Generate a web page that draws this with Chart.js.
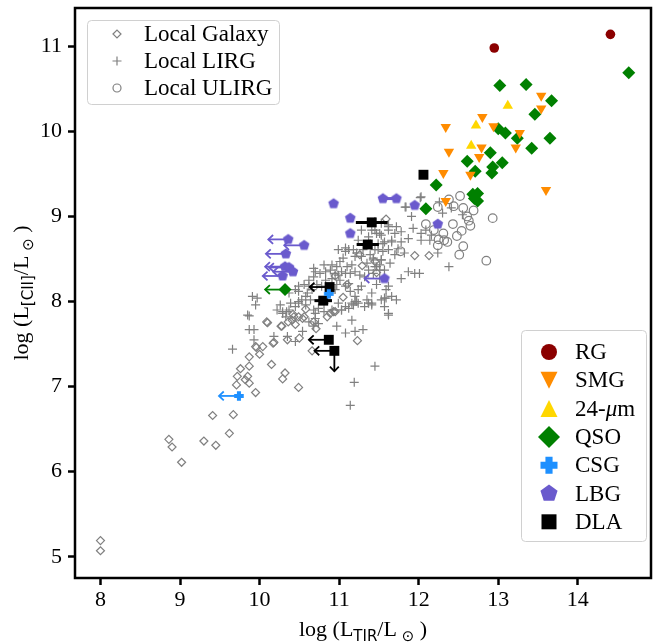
<!DOCTYPE html>
<html>
<head>
<meta charset="utf-8">
<script src="https://cdn.jsdelivr.net/npm/chart.js@4.4.0/dist/chart.umd.min.js"></script>
<style>
    body { margin: 0; background: #fff; }
    #wrap { width: 658px; height: 643px; }
</style>
</head>
<body>
<div id="wrap"><canvas id="ciiChart"></canvas></div>
<script>
// eixos
const xMin = 7.68, xMax = 14.92, yMin = 4.75, yMax = 11.45;
const xTicks = [8, 9, 10, 11, 12, 13, 14];
const yTicks = [5, 6, 7, 8, 9, 10, 11];

// amostras de alto z
const rgPts = [[12.95, 10.98], [14.41, 11.14]];
const smgPts = [[12.34, 10.05], [13.54, 10.42], [13.54, 10.27], [12.80, 10.17], [12.94, 10.06], [13.27, 9.98],
    [12.38, 9.76], [12.79, 9.81], [13.22, 9.81], [12.76, 9.70], [12.31, 9.51], [12.65, 9.49], [13.60, 9.31], [12.34, 9.18]];
const mipsPts = [[13.12, 10.30], [12.72, 10.07], [12.66, 9.83]];
const qsoPts = [[13.02, 10.54], [13.35, 10.55], [13.67, 10.36], [14.64, 10.69], [13.46, 10.20], [13.00, 10.03],
    [13.09, 9.98], [13.24, 9.92], [13.65, 9.92], [13.42, 9.80], [12.90, 9.75], [12.61, 9.65], [13.05, 9.63],
    [12.71, 9.53], [12.93, 9.58], [12.92, 9.51], [12.22, 9.37], [12.68, 9.26], [12.74, 9.27], [12.74, 9.18],
    [12.70, 9.21], [12.09, 9.09], [10.32, 8.14]];
const csgPts = [[9.74, 6.89], [10.87, 8.09]];
const lbgPts = [[10.93, 9.15], [11.55, 9.21], [11.72, 9.21], [11.14, 8.98], [11.14, 8.80], [11.95, 9.13], [12.24, 8.91],
    [10.36, 8.73], [10.56, 8.66], [10.33, 8.56], [10.32, 8.41], [10.37, 8.40], [10.42, 8.35], [10.29, 8.30], [11.57, 8.27]];
const dlaPts = [[11.41, 8.93], [11.36, 8.67], [10.88, 8.17], [10.80, 8.01], [10.87, 7.55], [10.94, 7.42], [12.06, 9.49]];

// limites superiores (setas) e barras de erro
const leftLimits = [
    { pts: [[10.36, 8.73], [10.56, 8.66], [10.33, 8.56], [10.32, 8.41], [10.37, 8.40], [10.42, 8.35], [10.29, 8.30], [11.57, 8.27]], color: '#6a5acd' },
    { pts: [[10.32, 8.14]], color: 'green' },
    { pts: [[9.74, 6.89]], color: '#1e90ff' },
    { pts: [[10.88, 8.17], [10.87, 7.55], [10.94, 7.42]], color: '#000' }
];
const downLimits = [[10.94, 7.42]];
const dlaXerr = [[11.41, 8.93, 0.20], [11.36, 8.67, 0.14], [10.80, 8.01, 0.11]];
const lbgLink = [[11.55, 11.72, 9.21]];

// amostras locais
const galaxyPts = [[8.00, 5.19], [8.00, 5.07], [8.86, 6.38], [8.90, 6.29], [9.02, 6.11], [9.30, 6.36], [9.45, 6.31],
    [9.62, 6.45], [9.41, 6.66], [9.67, 6.67], [9.95, 6.93], [10.15, 7.26], [9.71, 7.02], [9.72, 7.12], [9.76, 7.21],
    [9.87, 7.35], [9.87, 7.24], [10.00, 7.38], [9.95, 7.47], [10.04, 7.47], [10.17, 7.51], [9.82, 7.08], [9.87, 7.04],
    [9.85, 7.12], [10.09, 7.76], [9.96, 7.46], [10.27, 7.71], [10.36, 7.76], [10.45, 7.73], [10.42, 7.85], [10.58, 7.91],
    [10.56, 7.82], [10.68, 7.76], [10.71, 7.68], [10.85, 7.82], [10.93, 7.88], [10.35, 7.55], [10.18, 7.52], [10.50, 7.57],
    [10.32, 7.16], [10.29, 7.09], [10.49, 6.99], [11.23, 7.54], [10.66, 7.42], [11.59, 8.97], [11.95, 8.54], [12.13, 8.54],
    [11.26, 8.55], [11.29, 8.42], [11.45, 8.47], [11.47, 8.34], [10.54, 7.80], [10.10, 7.75], [10.28, 7.71], [10.43, 7.82],
    [10.89, 7.86], [10.95, 8.30], [11.10, 8.20], [11.05, 8.05], [10.41, 7.78], [10.49, 7.82], [10.95, 7.88]];
const lirgPts = [[9.91, 8.06], [9.97, 8.04], [9.95, 7.96], [10.45, 8.14], [10.49, 8.18], [10.56, 8.20], [10.62, 8.25],
    [10.68, 8.29], [10.70, 8.35], [10.76, 8.33], [10.83, 8.35], [10.89, 8.37], [10.91, 8.43], [10.97, 8.41], [11.01, 8.47],
    [11.05, 8.51], [11.08, 8.59], [11.12, 8.61], [11.18, 8.61], [11.20, 8.53], [11.22, 8.57], [11.28, 8.53], [11.30, 8.61],
    [11.35, 8.45], [11.39, 8.55], [11.43, 8.51], [11.45, 8.61], [11.47, 8.80], [11.49, 8.68], [11.51, 8.43], [11.53, 8.49],
    [11.55, 8.59], [11.57, 8.37], [11.57, 8.70], [11.59, 8.14], [11.51, 8.27], [11.47, 8.20], [11.41, 8.10], [11.35, 8.02],
    [11.28, 8.18], [11.24, 8.14], [11.20, 8.06], [11.14, 8.12], [11.12, 8.21], [11.08, 8.18], [11.01, 8.25], [10.97, 8.20],
    [10.95, 8.14], [10.89, 8.10], [10.85, 8.02], [10.81, 7.98], [10.74, 7.92], [10.68, 7.90], [10.64, 8.02], [10.60, 8.10],
    [10.58, 7.96], [10.53, 8.02], [10.49, 8.00], [10.45, 7.94], [10.39, 7.98], [10.37, 7.90], [10.33, 7.82], [10.29, 7.86],
    [10.26, 7.96], [10.22, 7.90], [10.70, 7.80], [10.74, 7.74], [10.62, 7.76], [10.99, 7.98], [11.03, 7.90], [11.12, 7.92],
    [11.18, 7.96], [11.24, 7.98], [11.32, 7.94], [11.41, 7.96], [11.53, 8.02], [11.57, 7.94], [10.95, 8.33], [10.99, 8.31],
    [10.91, 8.27], [10.83, 8.25], [10.78, 8.18], [10.72, 8.20], [10.66, 8.14], [10.62, 8.18], [11.08, 8.33], [11.14, 8.33],
    [11.20, 8.35], [11.26, 8.31], [11.16, 8.43], [11.10, 8.41], [11.03, 8.35], [11.32, 8.29], [11.37, 8.37], [11.43, 8.33],
    [11.47, 8.41], [11.51, 8.37], [12.03, 9.23], [11.84, 9.11], [11.91, 9.00], [12.26, 9.17], [12.30, 9.04], [12.55, 9.02],
    [11.45, 8.94], [11.53, 8.92], [11.62, 8.90], [11.72, 8.88], [11.78, 8.82], [11.70, 8.80], [11.62, 8.84], [11.53, 8.78],
    [11.45, 8.84], [11.93, 8.86], [12.03, 8.80], [12.09, 8.84], [12.16, 8.78], [12.03, 8.72], [12.14, 8.72], [11.87, 8.74],
    [11.78, 8.70], [11.66, 8.70], [11.55, 8.68], [11.74, 8.62], [11.82, 8.57], [11.70, 8.55], [11.62, 8.61], [11.49, 8.61],
    [11.53, 8.49], [11.64, 8.45], [12.24, 8.57], [12.38, 8.41], [11.87, 8.35], [11.95, 8.33], [12.01, 8.33], [11.78, 8.27],
    [11.43, 8.49], [11.45, 8.41], [11.39, 8.68], [12.02, 9.22], [11.83, 9.11], [12.41, 9.10], [9.87, 7.83], [9.87, 7.67],
    [9.93, 7.67], [9.93, 7.55], [9.66, 7.44], [10.37, 8.10], [10.29, 7.88], [10.34, 7.88], [10.49, 8.12], [10.49, 7.98],
    [10.58, 8.06], [10.70, 7.86], [10.68, 7.71], [10.54, 7.65], [10.45, 7.53], [10.35, 7.59], [10.18, 7.59], [11.08, 7.63],
    [11.20, 7.65], [11.30, 7.67], [11.08, 7.94], [11.20, 8.00], [11.41, 7.98], [11.62, 7.86], [11.59, 8.04], [11.45, 7.24],
    [11.19, 7.05], [11.14, 6.78], [10.97, 7.71], [11.03, 7.90], [10.91, 7.90], [10.81, 7.88], [11.16, 7.78], [10.68, 8.39],
    [10.81, 8.43], [10.99, 8.61], [11.08, 8.63], [11.24, 8.72], [11.41, 8.84], [11.51, 8.80], [11.62, 8.88], [11.66, 8.72],
    [11.28, 8.84], [11.37, 8.76], [9.85, 7.84], [11.62, 8.18], [11.57, 8.04], [11.66, 8.06], [11.72, 8.02], [11.62, 7.84],
    [11.37, 7.98], [11.16, 7.98], [11.22, 8.00]];
const ulirgPts = [[12.38, 9.20], [12.52, 9.24], [12.24, 9.11], [12.44, 9.12], [12.56, 9.10], [12.69, 9.07], [12.09, 8.91],
    [12.43, 8.91], [12.54, 8.83], [12.63, 8.95], [12.65, 8.89], [12.93, 8.98], [12.31, 8.80], [12.25, 8.73], [12.32, 8.72],
    [12.36, 8.70], [12.24, 8.66], [12.56, 8.65], [12.51, 8.55], [12.85, 8.48], [11.77, 8.59], [12.19, 8.84], [12.48, 8.77],
    [12.61, 9.00]];

const serif = "'Liberation Serif', 'DejaVu Serif', serif";
const sans = "'DejaVu Sans', sans-serif";

function toXY(list) {
    return list.map(p => ({ x: p[0], y: p[1] }));
}

// marcadores que o Chart.js não tem (pentágono, cruz cheia)
function makeMarker(kind, size, color) {
    const c = document.createElement('canvas');
    c.width = c.height = Math.ceil(size * 2 + 2);
    const g = c.getContext('2d');
    const m = c.width / 2;
    g.fillStyle = color;
    g.beginPath();
    shapePath(g, kind, m, m, size);
    g.fill();
    return c;
}

function shapePath(g, kind, x, y, r) {
    if (kind === 'circle') {
        g.arc(x, y, r, 0, 2 * Math.PI);
    } else if (kind === 'diamond') {
        g.moveTo(x - r, y); g.lineTo(x, y - r); g.lineTo(x + r, y); g.lineTo(x, y + r); g.closePath();
    } else if (kind === 'up') {
        g.moveTo(x, y - r); g.lineTo(x + r, y + r); g.lineTo(x - r, y + r); g.closePath();
    } else if (kind === 'down') {
        g.moveTo(x, y + r); g.lineTo(x + r, y - r); g.lineTo(x - r, y - r); g.closePath();
    } else if (kind === 'square') {
        g.rect(x - r, y - r, 2 * r, 2 * r);
    } else if (kind === 'pentagon') {
        for (let i = 0; i < 5; i++) {
            const a = -Math.PI / 2 + i * 2 * Math.PI / 5;
            g.lineTo(x + r * Math.cos(a), y + r * Math.sin(a));
        }
        g.closePath();
    } else if (kind === 'plusfill') {
        const t = r * 0.42;
        g.moveTo(x - t, y - r); g.lineTo(x + t, y - r); g.lineTo(x + t, y - t); g.lineTo(x + r, y - t);
        g.lineTo(x + r, y + t); g.lineTo(x + t, y + t); g.lineTo(x + t, y + r); g.lineTo(x - t, y + r);
        g.lineTo(x - t, y + t); g.lineTo(x - r, y + t); g.lineTo(x - r, y - t); g.lineTo(x - t, y - t);
        g.closePath();
    } else if (kind === 'plus') {
        g.moveTo(x - r, y); g.lineTo(x + r, y); g.moveTo(x, y - r); g.lineTo(x, y + r);
    }
}

const pentagonImg = makeMarker('pentagon', 5.6, '#6a5acd');
const plusImg = makeMarker('plusfill', 4.8, '#1e90ff');

function arrowLine(ctx, x0, y0, x1, y1, color) {
    ctx.strokeStyle = color;
    ctx.lineWidth = 1.8;
    ctx.beginPath(); ctx.moveTo(x0, y0); ctx.lineTo(x1, y1); ctx.stroke();
    const a = Math.atan2(y1 - y0, x1 - x0), h = 6.5;
    ctx.beginPath();
    ctx.moveTo(x1 - h * Math.cos(a - 0.75), y1 - h * Math.sin(a - 0.75));
    ctx.lineTo(x1, y1);
    ctx.lineTo(x1 - h * Math.cos(a + 0.75), y1 - h * Math.sin(a + 0.75));
    ctx.stroke();
}

function drawParts(ctx, parts, x, y) {
    let total = 0;
    parts.forEach(p => { ctx.font = p[1]; total += ctx.measureText(p[0]).width; });
    let cx = x - total / 2;
    parts.forEach(p => {
        ctx.font = p[1];
        ctx.fillText(p[0], cx, y + p[2]);
        cx += ctx.measureText(p[0]).width;
    });
}

function drawLegend(ctx, box, rows) {
    ctx.save();
    ctx.fillStyle = 'rgba(255,255,255,0.8)';
    ctx.strokeStyle = '#d0d0d0';
    ctx.lineWidth = 1;
    ctx.beginPath();
    ctx.roundRect(box.x + 0.5, box.y + 0.5, box.w, box.h, 4);
    ctx.fill();
    ctx.stroke();
    ctx.textBaseline = 'middle';
    rows.forEach((r, i) => {
        const y = box.rowY + i * box.step;
        ctx.beginPath();
        shapePath(ctx, r.kind, box.mx, y, r.size);
        if (r.fill) { ctx.fillStyle = r.fill; ctx.fill(); }
        if (r.stroke) { ctx.strokeStyle = r.stroke; ctx.lineWidth = 1.2; ctx.stroke(); }
        ctx.fillStyle = '#000';
        let tx = box.tx;
        r.text.forEach(t => {
            ctx.font = (t[1] ? 'italic ' : '') + '23px ' + serif;
            ctx.fillText(t[0], tx, y + 1);
            tx += ctx.measureText(t[0]).width;
        });
    });
    ctx.restore();
}

const decorPlugin = {
    id: 'decor',
    afterDatasetDraw(chart, args) {
        if (args.index !== 7) return; // depois dos pontos locais, antes dos coloridos
        const ctx = chart.ctx, xs = chart.scales.x, ys = chart.scales.y;
        ctx.save();
        // barras de erro das DLA
        dlaXerr.forEach(e => {
            ctx.strokeStyle = '#000';
            ctx.lineWidth = 3;
            ctx.beginPath();
            ctx.moveTo(xs.getPixelForValue(e[0] - e[2]), ys.getPixelForValue(e[1]));
            ctx.lineTo(xs.getPixelForValue(e[0] + e[2]), ys.getPixelForValue(e[1]));
            ctx.stroke();
        });
        lbgLink.forEach(e => {
            ctx.strokeStyle = '#6a5acd';
            ctx.lineWidth = 3;
            ctx.beginPath();
            ctx.moveTo(xs.getPixelForValue(e[0]), ys.getPixelForValue(e[2]));
            ctx.lineTo(xs.getPixelForValue(e[1]), ys.getPixelForValue(e[2]));
            ctx.stroke();
        });
        leftLimits.forEach(group => {
            group.pts.forEach(p => {
                const py = ys.getPixelForValue(p[1]);
                arrowLine(ctx, xs.getPixelForValue(p[0]), py, xs.getPixelForValue(p[0] - 0.25), py, group.color);
            });
        });
        downLimits.forEach(p => {
            const px = xs.getPixelForValue(p[0]);
            arrowLine(ctx, px, ys.getPixelForValue(p[1]), px, ys.getPixelForValue(p[1] - 0.24), '#000');
        });
        ctx.restore();
    },
    afterDraw(chart) {
        const ctx = chart.ctx, a = chart.chartArea;
        ctx.save();
        // moldura
        ctx.strokeStyle = '#000';
        ctx.lineWidth = 2.5;
        ctx.strokeRect(a.left, a.top, a.right - a.left, a.bottom - a.top);

        // títulos dos eixos
        ctx.fillStyle = '#000';
        ctx.textBaseline = 'alphabetic';
        const big = '22px ' + serif, small = '15px ' + sans;
        drawParts(ctx, [['log (L', big, 0], ['TIR', small, 5], ['/L', big, 0], [' \u2299', small, 5], [' )', big, 0]],
            (a.left + a.right) / 2, 636);
        ctx.save();
        ctx.translate(28, (a.top + a.bottom) / 2);
        ctx.rotate(-Math.PI / 2);
        drawParts(ctx, [['log (L', big, 0], ['[CII]', small, 5], ['/L', big, 0], [' \u2299', small, 5], [' )', big, 0]], 0, 0);
        ctx.restore();

        // legendas
        drawLegend(ctx, { x: 87, y: 20, w: 192, h: 84, rowY: 34, step: 27, mx: 117, tx: 144 }, [
            { kind: 'diamond', size: 4, stroke: 'gray', text: [['Local Galaxy']] },
            { kind: 'plus', size: 4.5, stroke: 'gray', text: [['Local LIRG']] },
            { kind: 'circle', size: 4, stroke: 'gray', text: [['Local ULIRG']] }
        ]);
        drawLegend(ctx, { x: 521, y: 330, w: 125, h: 211, rowY: 352, step: 28.3, mx: 549, tx: 575 }, [
            { kind: 'circle', size: 8, fill: 'darkred', text: [['RG']] },
            { kind: 'down', size: 8.5, fill: 'darkorange', text: [['SMG']] },
            { kind: 'up', size: 8.5, fill: 'gold', text: [['24-'], ['\u03bc', true], ['m']] },
            { kind: 'diamond', size: 11, fill: 'green', text: [['QSO']] },
            { kind: 'plusfill', size: 8.5, fill: '#1e90ff', text: [['CSG']] },
            { kind: 'pentagon', size: 9, fill: '#6a5acd', text: [['LBG']] },
            { kind: 'square', size: 7.5, fill: '#000', text: [['DLA']] }
        ]);
        ctx.restore();
    }
};

function axisFont() {
    return { family: serif, size: 22 };
}

// sem folga extra para os rótulos das pontas: a área do gráfico fica fixa
function noPad(s) {
    s.paddingTop = 0;
    s.paddingBottom = 0;
    s.paddingLeft = 0;
    s.paddingRight = 0;
}

new Chart(document.getElementById('ciiChart'), {
    type: 'scatter',
    data: {
        datasets: [
            { label: 'RG', data: toXY(rgPts), pointStyle: 'circle', pointRadius: 4.8, backgroundColor: 'darkred', borderWidth: 0 },
            { label: 'SMG', data: toXY(smgPts), pointStyle: 'triangle', rotation: 180, pointRadius: 6, backgroundColor: 'darkorange', borderWidth: 0 },
            { label: '24-μm', data: toXY(mipsPts), pointStyle: 'triangle', pointRadius: 6, backgroundColor: 'gold', borderWidth: 0 },
            { label: 'QSO', data: toXY(qsoPts), pointStyle: 'rectRot', pointRadius: 6.5, backgroundColor: 'green', borderWidth: 0 },
            { label: 'CSG', data: toXY(csgPts), pointStyle: plusImg, pointRadius: 5 },
            { label: 'LBG', data: toXY(lbgPts), pointStyle: pentagonImg, pointRadius: 5.5 },
            { label: 'DLA', data: toXY(dlaPts), pointStyle: 'rect', pointRadius: 7, backgroundColor: '#000', borderWidth: 0 },
            { label: 'Local Galaxy', data: toXY(galaxyPts), pointStyle: 'rectRot', pointRadius: 4, backgroundColor: 'rgba(0,0,0,0)', borderColor: 'gray', borderWidth: 1.2 },
            { label: 'Local LIRG', data: toXY(lirgPts), pointStyle: 'cross', pointRadius: 4.5, borderColor: 'gray', borderWidth: 1.2 },
            { label: 'Local ULIRG', data: toXY(ulirgPts), pointStyle: 'circle', pointRadius: 4.3, backgroundColor: 'rgba(0,0,0,0)', borderColor: 'gray', borderWidth: 1.2 }
        ]
    },
    options: {
        responsive: true,
        maintainAspectRatio: false,
        animation: false,
        events: [],
        layout: { padding: { top: 8, right: 3, left: 0, bottom: 0 } },
        plugins: { legend: { display: false }, tooltip: { enabled: false } },
        scales: {
            x: {
                type: 'linear', min: xMin, max: xMax,
                afterBuildTicks: s => { s.ticks = xTicks.map(v => ({ value: v })); },
                afterFit: s => { s.height = 65; noPad(s); },
                grid: { drawOnChartArea: false, tickLength: 7, tickWidth: 2.5, tickColor: '#000' },
                border: { display: false },
                ticks: { color: '#000', font: axisFont(), padding: 2, maxRotation: 0, callback: v => String(v) }
            },
            y: {
                type: 'linear', min: yMin, max: yMax,
                afterBuildTicks: s => { s.ticks = yTicks.map(v => ({ value: v })); },
                afterFit: s => { s.width = 75; noPad(s); },
                grid: { drawOnChartArea: false, tickLength: 7, tickWidth: 2.5, tickColor: '#000' },
                border: { display: false },
                ticks: { color: '#000', font: axisFont(), padding: 6, callback: v => String(v) }
            }
        }
    },
    plugins: [decorPlugin]
});
</script>
</body>
</html>
